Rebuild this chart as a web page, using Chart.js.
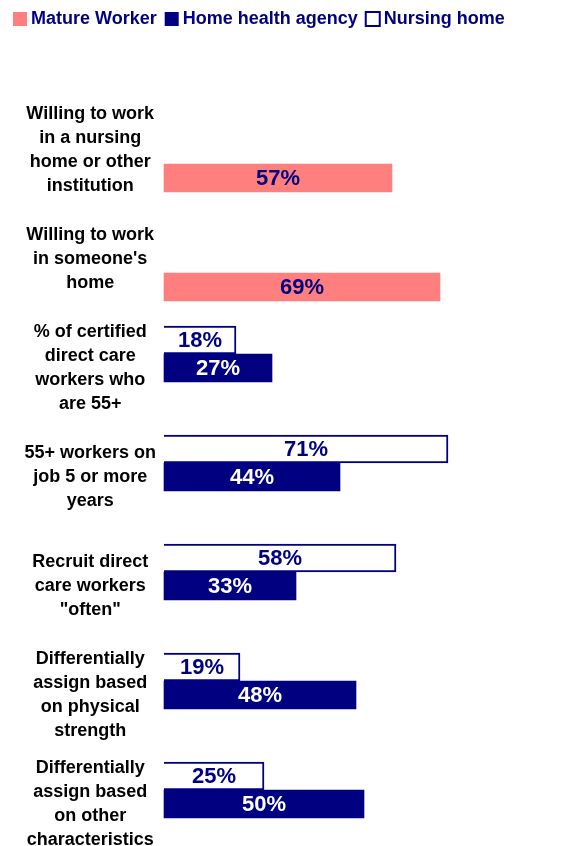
<!DOCTYPE html>
<html>
<head>
<meta charset="utf-8">
<script src="https://cdn.jsdelivr.net/npm/chart.js@4/dist/chart.umd.min.js"></script>
<style>
  html, body { margin: 0; padding: 0; background: #fff; }
  #wrap { width: 584px; height: 846px; position: relative; }
</style>
</head>
<body>
<div id="wrap"><canvas id="c" width="584" height="846"></canvas></div>
<script>
const categories = [
  ["Willing to work", "in a nursing", "home or other", "institution"],
  ["Willing to work", "in someone's", "home"],
  ["% of certified", "direct care", "workers who", "are 55+"],
  ["55+ workers on", "job 5 or more", "years"],
  ["Recruit direct", "care workers", "\"often\""],
  ["Differentially", "assign based", "on physical", "strength"],
  ["Differentially", "assign based", "on other", "characteristics"]
];
const matureWorker = [57, 69, null, null, null, null, null];
const homeHealthAgency = [null, null, 27, 44, 33, 48, 50];
const nursingHome = [null, null, 18, 71, 58, 19, 25];

const NAVY = '#000080';
const SALMON = '#FF7F7F';
const FONT = '"Liberation Sans", Arial, Helvetica, sans-serif';

const valueLabels = {
  id: 'valueLabels',
  afterDatasetsDraw(chart) {
    const ctx = chart.ctx;
    ctx.save();
    ctx.font = 'bold 22px ' + FONT;
    ctx.textAlign = 'center';
    ctx.textBaseline = 'middle';
    chart.data.datasets.forEach((ds, i) => {
      const meta = chart.getDatasetMeta(i);
      meta.data.forEach((bar, j) => {
        const v = ds.data[j];
        if (v === null || v === undefined) return;
        ctx.fillStyle = ds.labelColor;
        ctx.fillText(v + '%', (bar.x + bar.base) / 2, bar.y + 1);
      });
    });
    ctx.restore();
  }
};

const legendSpace = {
  id: 'legendSpace',
  beforeInit(chart) {
    const origFit = chart.legend.fit;
    chart.legend.fit = function () {
      origFit.bind(chart.legend)();
      this.height += 109;
    };
  },
  afterLayout(chart) {
    const lg = chart.legend;
    lg.left = 5;
    lg.top = lg.top - 3;
  }
};

new Chart(document.getElementById('c'), {
  type: 'bar',
  data: {
    labels: categories,
    datasets: [
      { label: 'Nursing home', data: nursingHome, backgroundColor: '#FFFFFF', borderColor: NAVY, borderWidth: 2, labelColor: NAVY, clip: false },
      { label: 'Home health agency', data: homeHealthAgency, backgroundColor: NAVY, borderColor: NAVY, borderWidth: 0, labelColor: '#FFFFFF', clip: false },
      { label: 'Mature Worker', data: matureWorker, backgroundColor: SALMON, borderColor: SALMON, borderWidth: 0, labelColor: NAVY, clip: false }
    ]
  },
  options: {
    indexAxis: 'y',
    responsive: false,
    animation: false,
    devicePixelRatio: 1,
    barThickness: 28,
    layout: { padding: { left: 0, right: 20, top: 0, bottom: 42 } },
    scales: {
      x: { display: false, min: 0, max: 100 },
      y: {
        offset: false,
        grid: { display: false, drawTicks: false },
        border: { display: false },
        ticks: {
          crossAlign: 'center',
          padding: 8,
          color: '#000000',
          font: { family: FONT, size: 18, weight: 'bold', lineHeight: 1.333 },
          autoSkip: false
        },
        afterFit(scale) {
          scale.width = 164;
          scale.paddingTop = 0;
          scale.paddingBottom = 0;
        }
      }
    },
    plugins: {
      legend: {
        position: 'top',
        align: 'start',
        reverse: true,
        labels: {
          usePointStyle: true,
          pointStyle: 'rect',
          boxWidth: 4,
          boxHeight: 14,
          padding: 13,
          color: NAVY,
          font: { family: FONT, size: 18, weight: 'bold' }
        }
      },
      tooltip: { enabled: false }
    }
  },
  plugins: [valueLabels, legendSpace]
});
</script>
</body>
</html>
